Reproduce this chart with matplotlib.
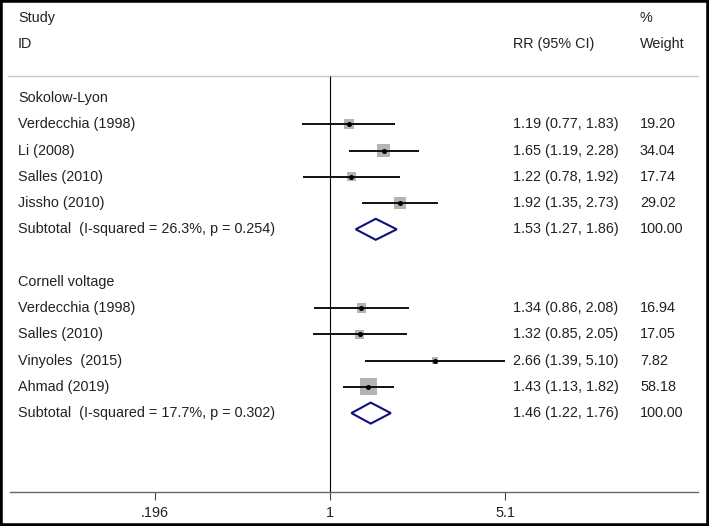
import numpy as np
import matplotlib.pyplot as plt
from matplotlib.patches import Polygon, Rectangle
import matplotlib.transforms as mtransforms

plt.rcParams['font.family'] = ['Liberation Sans', 'DejaVu Sans']

# Sokolow-Lyon subgroup
sl_study = ['Verdecchia (1998)', 'Li (2008)', 'Salles (2010)', 'Jissho (2010)']
sl_rr = [1.19, 1.65, 1.22, 1.92]
sl_lo = [0.77, 1.19, 0.78, 1.35]
sl_hi = [1.83, 2.28, 1.92, 2.73]
sl_w = [19.20, 34.04, 17.74, 29.02]
sl_sub = [1.53, 1.27, 1.86]
sl_het = 'Subtotal  (I-squared = 26.3%, p = 0.254)'

# Cornell voltage subgroup
cv_study = ['Verdecchia (1998)', 'Salles (2010)', 'Vinyoles  (2015)', 'Ahmad (2019)']
cv_rr = [1.34, 1.32, 2.66, 1.43]
cv_lo = [0.86, 0.85, 1.39, 1.13]
cv_hi = [2.08, 2.05, 5.10, 1.82]
cv_w = [16.94, 17.05, 7.82, 58.18]
cv_sub = [1.46, 1.22, 1.76]
cv_het = 'Subtotal  (I-squared = 17.7%, p = 0.302)'

xticks = [0.196, 1, 5.1]
xticklabels = ['.196', '1', '5.1']

fig = plt.figure(figsize=(7.09, 5.26), dpi=100)
ax = fig.add_axes([0, 0, 1, 1])
ax.set_xscale('log')
ax.set_xlim(0.0464, 33.98)
ax.set_ylim(16.30, -3.733)

tr = mtransforms.blended_transform_factory(ax.transAxes, ax.transData)
fs = 10.4
txtc = '#222222'
x_id, x_rr, x_w = 18 / 709, 513 / 709, 640 / 709

ax.text(x_id, -3.05, 'Study', transform=tr, fontsize=fs, color=txtc, va='center')
ax.text(x_id, -2.05, 'ID', transform=tr, fontsize=fs, color=txtc, va='center')
ax.text(x_rr, -2.05, 'RR (95% CI)', transform=tr, fontsize=fs, color=txtc, va='center')
ax.text(x_w, -3.05, '%', transform=tr, fontsize=fs, color=txtc, va='center')
ax.text(x_w, -2.05, 'Weight', transform=tr, fontsize=fs, color=txtc, va='center')
ax.plot([8 / 709, 698 / 709], [-0.84, -0.84], transform=tr, color='#c8c8c8', lw=1)


def draw_group(y0, title, study, rr, lo, hi, w, sub, het):
    ax.text(x_id, y0, title, transform=tr, fontsize=fs, color=txtc, va='center')
    ys = y0 + 1 + np.arange(len(study))
    ax.scatter(rr, ys, s=np.array(w) * 2.58, marker='s', color='#b4b4b4', zorder=2, lw=0)
    ax.hlines(ys, lo, hi, color='#111111', lw=1.4, zorder=3)
    ax.plot(rr, ys, 'o', color='black', ms=2.6, zorder=4)
    for i in range(len(study)):
        ax.text(x_id, ys[i], study[i], transform=tr, fontsize=fs, color=txtc, va='center')
        ax.text(x_rr, ys[i], f'{rr[i]:.2f} ({lo[i]:.2f}, {hi[i]:.2f})', transform=tr,
                fontsize=fs, color=txtc, va='center')
        ax.text(x_w, ys[i], f'{w[i]:.2f}', transform=tr, fontsize=fs, color=txtc, va='center')
    ysub = ys[-1] + 1
    est, l, h = sub
    ax.add_patch(Polygon([(l, ysub), (est, ysub - 0.4), (h, ysub), (est, ysub + 0.4)],
                         closed=True, fill=False, ec='#10107a', lw=1.5, zorder=3))
    ax.text(x_id, ysub, het, transform=tr, fontsize=fs, color=txtc, va='center')
    ax.text(x_rr, ysub, f'{est:.2f} ({l:.2f}, {h:.2f})', transform=tr, fontsize=fs,
            color=txtc, va='center')
    ax.text(x_w, ysub, '100.00', transform=tr, fontsize=fs, color=txtc, va='center')


draw_group(0, 'Sokolow-Lyon', sl_study, sl_rr, sl_lo, sl_hi, sl_w, sl_sub, sl_het)
draw_group(7, 'Cornell voltage', cv_study, cv_rr, cv_lo, cv_hi, cv_w, cv_sub, cv_het)

# line of no effect
ax.vlines(1, -0.84, 15, color='black', lw=0.8)

# x axis
for s in ['top', 'left', 'right']:
    ax.spines[s].set_visible(False)
ax.spines['bottom'].set_position(('data', 15))
ax.spines['bottom'].set_bounds(0.0509, 30.67)
ax.spines['bottom'].set_color('#666666')
ax.spines['bottom'].set_linewidth(1.0)
ax.set_yticks([])
ax.set_xticks(xticks)
ax.set_xticklabels(xticklabels)
ax.xaxis.set_minor_locator(plt.NullLocator())
ax.tick_params(axis='x', direction='out', length=6, width=0.8, color='#444444',
               labelsize=fs, labelcolor=txtc, pad=4)

fig.patches.append(Rectangle((0, 0), 1, 1, transform=fig.transFigure, fill=False,
                             ec='black', lw=4, zorder=10))

fig.savefig('out.png', dpi=100)
